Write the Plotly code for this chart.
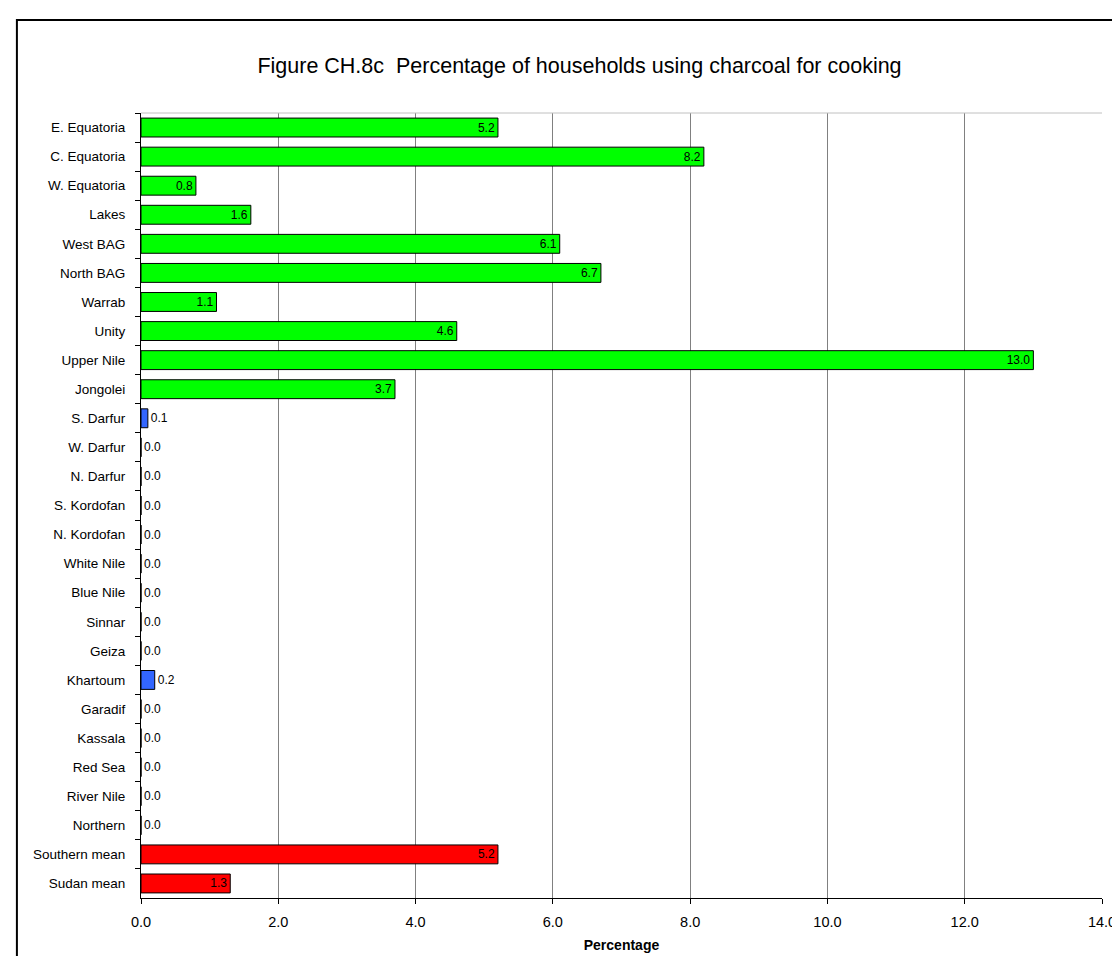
import plotly.graph_objects as go

categories = ["E. Equatoria", "C. Equatoria", "W. Equatoria", "Lakes", "West BAG", "North BAG",
              "Warrab", "Unity", "Upper Nile", "Jongolei", "S. Darfur", "W. Darfur", "N. Darfur",
              "S. Kordofan", "N. Kordofan", "White Nile", "Blue Nile", "Sinnar", "Geiza", "Khartoum",
              "Garadif", "Kassala", "Red Sea", "River Nile", "Northern", "Southern mean", "Sudan mean"]
values = [5.2, 8.2, 0.8, 1.6, 6.1, 6.7, 1.1, 4.6, 13.0, 3.7, 0.1, 0.0, 0.0, 0.0, 0.0, 0.0, 0.0,
          0.0, 0.0, 0.2, 0.0, 0.0, 0.0, 0.0, 0.0, 5.2, 1.3]
groups = ["south"] * 10 + ["north"] * 15 + ["mean"] * 2
group_colors = {"south": "#00FF00", "north": "#3366FF", "mean": "#FF0000"}
x_ticks = [0, 2, 4, 6, 8, 10, 12, 14]

colors = [group_colors[g] for g in groups]
texts = [f"{v:.1f}" for v in values]
positions = ["inside" if v >= 0.5 else "outside" for v in values]

FONT = "Liberation Sans, Arial"

fig = go.Figure(go.Bar(
    x=values, y=categories, orientation="h",
    marker=dict(color=colors, line=dict(color="black", width=1)),
    text=texts, textposition=positions, insidetextanchor="end",
    textfont=dict(family=FONT, size=12, color="black"),
    insidetextfont=dict(family=FONT, size=12, color="black"),
    outsidetextfont=dict(family=FONT, size=12, color="black"),
    cliponaxis=False, constraintext="none", width=0.65,
))

fig.update_layout(
    width=1120, height=956,
    margin=dict(l=133, r=19, t=105, b=66),
    paper_bgcolor="white", plot_bgcolor="white",
    font=dict(family=FONT, size=12, color="black"),
    title=dict(text="Figure CH.8c  Percentage of households using charcoal for cooking",
               x=571.5 / 1120, xanchor="center", xref="container",
               y=1 - 57 / 956, yanchor="middle", yref="container",
               font=dict(size=21.5, color="black")),
    showlegend=False,
    shapes=[
        dict(type="rect", xref="paper", yref="paper",
             x0=(8 - 133) / 968, x1=(1130 - 133) / 968,
             y0=(890 - 970) / 785, y1=(890 - 12) / 785,
             line=dict(color="black", width=2), fillcolor="rgba(0,0,0,0)", layer="above"),
        dict(type="line", xref="paper", yref="paper", x0=0, x1=1, y0=1, y1=1,
             line=dict(color="#c0c0c0", width=1)),
    ],
)

fig.update_xaxes(
    range=[0, 14], tickvals=x_ticks, ticktext=[f"{t:.1f}" for t in x_ticks],
    showgrid=True, gridcolor="#808080", gridwidth=1,
    showline=True, linecolor="black", linewidth=1,
    ticks="outside", ticklen=5, tickcolor="black", ticklabelstandoff=6,
    tickfont=dict(size=14.5), zeroline=False,
    title=dict(text="<b>Percentage</b>", font=dict(size=14), standoff=10),
)
fig.update_yaxes(
    categoryorder="array", categoryarray=categories, autorange="reversed",
    showline=True, linecolor="black", linewidth=1,
    ticks="outside", ticklen=5, tickcolor="black", tickson="boundaries",
    ticklabelstandoff=12, tickfont=dict(size=13.5), showgrid=False,
)

fig.write_html("out.html")
